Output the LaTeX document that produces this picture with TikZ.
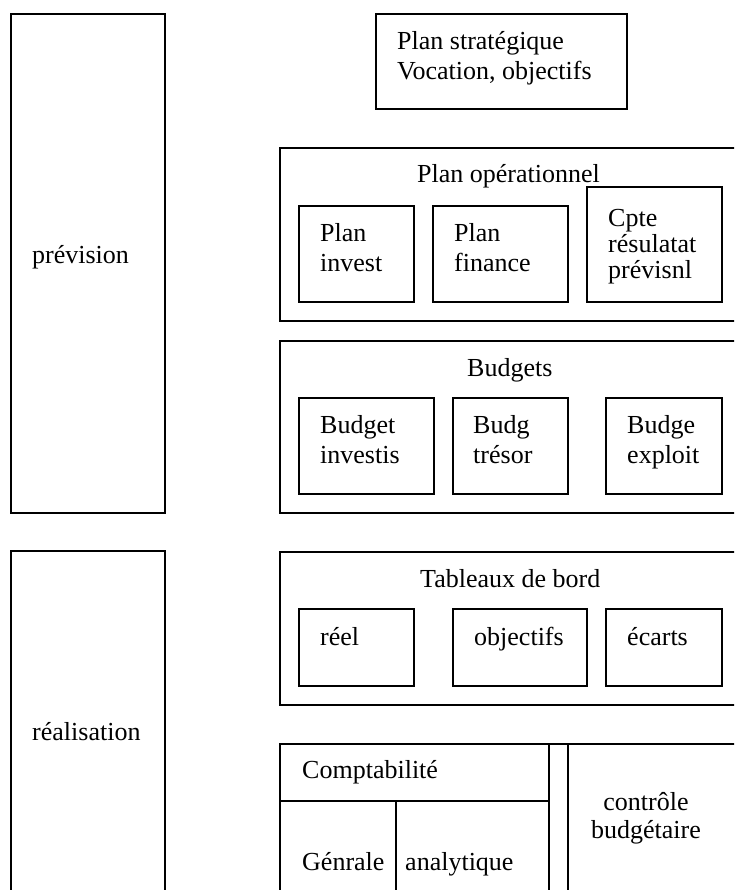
\documentclass[tikz,border=0pt]{standalone}
\usepackage{fontspec}
\setmainfont{Liberation Serif}
\begin{document}
\begin{tikzpicture}[x=1pt,y=-1pt,
  box/.style={draw, line width=1.5pt, inner sep=0pt, outer sep=0pt, anchor=north west},
  txt/.style={inner sep=0pt, anchor=base west, align=left, font=\fontsize{26}{30}\selectfont},
  tighttxt/.style={txt, font=\fontsize{26}{26}\selectfont},
  ctxt/.style={inner sep=0pt, anchor=base, font=\fontsize{26}{30}\selectfont}]
\useasboundingbox (0,0) rectangle (734,890);
\clip (0,0) rectangle (734,890);

% side bands
\node[box, minimum width=154pt, minimum height=499pt] (prev) at (11,14) {};
\node[box, minimum width=154pt, minimum height=360pt] (real) at (11,551) {};
\node[txt] (prevtxt) at (32,263) {prévision};
\node[txt] (realtxt) at (32,740) {réalisation};

% strategic plan (multi-line labels are placed by their last baseline)
\node[box, minimum width=251pt, minimum height=95pt] (strat) at (376,14) {};
\node[txt] (strattxt) at (397,80) {Plan stratégique\\Vocation, objectifs};

% operational plan
\node[box, minimum width=480pt, minimum height=173pt] (oper) at (280,148) {};
\node[txt] (opertxt) at (417,183) {Plan opérationnel};
\node[box, minimum width=115pt, minimum height=96pt] (pinv) at (299,206) {};
\node[box, minimum width=135pt, minimum height=96pt] (pfin) at (433,206) {};
\node[box, minimum width=135pt, minimum height=115pt] (cpte) at (587,187) {};
\node[txt] (pinvtxt) at (320,272) {Plan\\invest};
\node[txt] (pfintxt) at (454,272) {Plan\\finance};
\node[tighttxt] (cptetxt) at (608,279) {Cpte\\résulatat\\prévisnl};

% budgets
\node[box, minimum width=480pt, minimum height=172pt] (budg) at (280,341) {};
\node[txt] (budgtxt) at (467,376) {Budgets};
\node[box, minimum width=135pt, minimum height=96pt] (binv) at (299,398) {};
\node[box, minimum width=115pt, minimum height=96pt] (btre) at (453,398) {};
\node[box, minimum width=116pt, minimum height=96pt] (bexp) at (606,398) {};
\node[txt] (binvtxt) at (320,463) {Budget\\investis};
\node[txt] (btretxt) at (473,463) {Budg\\trésor};
\node[txt] (bexptxt) at (627,463) {Budge\\exploit};

% dashboards
\node[box, minimum width=480pt, minimum height=153pt] (tab) at (280,552) {};
\node[txt] (tabtxt) at (420,587) {Tableaux de bord};
\node[box, minimum width=115pt, minimum height=77pt] (reel) at (299,609) {};
\node[box, minimum width=134pt, minimum height=77pt] (obj) at (453,609) {};
\node[box, minimum width=116pt, minimum height=77pt] (ecart) at (606,609) {};
\node[txt] (reeltxt) at (320,645) {réel};
\node[txt] (objtxt) at (474,645) {objectifs};
\node[txt] (ecarttxt) at (627,645) {écarts};

% accounting and budget control
\node[box, minimum width=269pt, minimum height=57pt] (comptah) at (280,744) {};
\node[box, minimum width=116pt, minimum height=120pt] (gen) at (280,801) {};
\node[box, minimum width=153pt, minimum height=120pt] (ana) at (396,801) {};
\node[box, minimum width=19pt, minimum height=177pt] (gap) at (549,744) {};
\node[box, minimum width=200pt, minimum height=177pt] (ctrl) at (568,744) {};
\node[txt] (comptatxt) at (302,778) {Comptabilité};
\node[txt] (gentxt) at (302,870) {Génrale};
\node[txt] (anatxt) at (405,870) {analytique};
\node[ctxt] (ctrltxt1) at (646,810) {contrôle};
\node[ctxt] (ctrltxt2) at (646,838) {budgétaire};
\end{tikzpicture}
\end{document}
